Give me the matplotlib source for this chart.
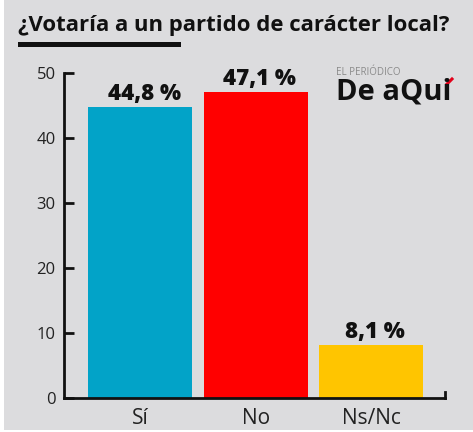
import numpy as np
import matplotlib.pyplot as plt
from matplotlib.patches import Rectangle
from matplotlib.lines import Line2D

## Data
Categories = ['Sí', 'No', 'Ns/Nc']
Values = [44.8, 47.1, 8.1]
Labels = ['44,8 %', '47,1 %', '8,1 %']
Colors = ['#02a3c8', '#ff0000', '#ffc500']
YTicks = [0, 10, 20, 30, 40, 50]

bg = '#dcdcde'
plt.rcParams['font.family'] = ['Open Sans', 'DejaVu Sans']

fig = plt.figure(figsize=(4.73, 4.32), dpi=100)
fig.patch.set_facecolor('white')
# grey card, thin white edge on the left like the original crop
fig.patches.append(Rectangle((4 / 473, 2 / 432), 1, 1, transform=fig.transFigure,
                             facecolor=bg, edgecolor='none', zorder=-5))

ax = fig.add_axes([64 / 473, 34 / 432, 381 / 473, 325 / 432])
ax.set_facecolor('none')
ax.set_zorder(2)

x = np.arange(len(Categories))
ax.bar(x, Values, width=0.9, color=Colors, zorder=2)

# value labels above the bars
for i in range(len(Values)):
    ax.annotate(Labels[i], (x[i], Values[i]), xytext=(3, 5), textcoords='offset points',
                ha='center', va='baseline', fontsize=16, fontweight='heavy', color='#111111')

ax.set_xlim(-0.66, 2.64)
ax.set_ylim(0, 50)
ax.set_xticks(x)
ax.set_xticklabels(Categories)
ax.set_yticks(YTicks)

for s in ['top', 'right']:
    ax.spines[s].set_visible(False)
for s in ['left', 'bottom']:
    ax.spines[s].set_linewidth(2)
    ax.spines[s].set_color('#111111')
    ax.spines[s].set_capstyle('projecting')

ax.tick_params(axis='y', direction='in', length=7, width=2, color='#111111',
               labelsize=12, labelcolor='#222222', pad=6)
ax.tick_params(axis='x', length=0, labelsize=15, labelcolor='#222222', pad=7)

# small end tick on the right of the x axis
ax.plot([1, 1], [0, 0.02], transform=ax.transAxes, color='#111111', lw=2,
        clip_on=False, solid_capstyle='projecting')

# title and underline
fig.text(18 / 473, 1 - 31 / 432, '¿Votaría a un partido de carácter local?',
         fontsize=15.9, fontweight='bold', color='#111111', va='baseline', ha='left')
fig.patches.append(Rectangle((18 / 473, 1 - 47 / 432), 163 / 473, 5 / 432,
                             transform=fig.transFigure, facecolor='#111111',
                             edgecolor='none'))

# newspaper logo
fig.text(336 / 473, 1 - 75 / 432, 'EL PERIÓDICO', fontsize=7, color='#8a8a8a',
         va='baseline', ha='left')
fig.text(336 / 473, 1 - 99 / 432, 'De aQui', fontsize=21, fontweight='bold',
         color='#111111', va='baseline', ha='left')
# red accent over the i
fig.lines.append(Line2D([447 / 473, 452 / 473], [1 - 84 / 432, 1 - 79 / 432],
                        transform=fig.transFigure, color='#e2001a', lw=2.2))

fig.savefig('out.png', dpi=100, facecolor=fig.get_facecolor())
